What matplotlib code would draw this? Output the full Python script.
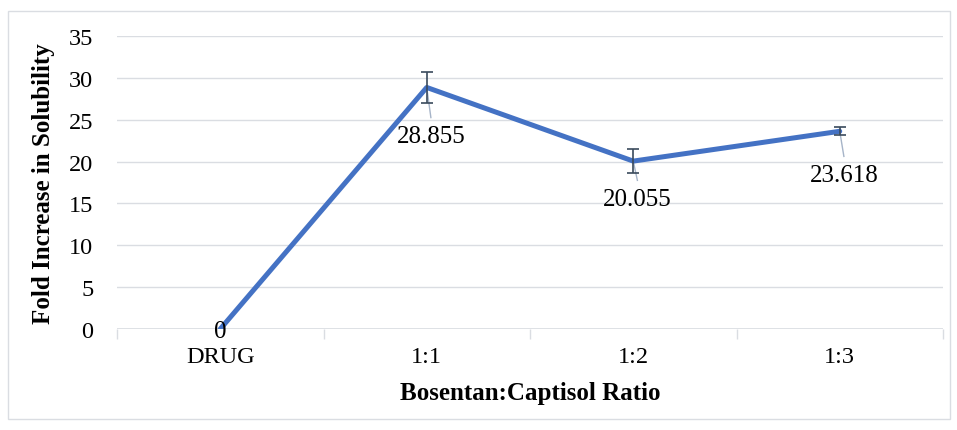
import matplotlib
matplotlib.use("Agg")
import matplotlib.pyplot as plt
from matplotlib.patches import Rectangle

categories = ["DRUG", "1:1", "1:2", "1:3"]
values = [0, 28.855, 20.055, 23.618]
errors = [0, 1.9, 1.4, 0.5]
labels = ["0", "28.855", "20.055", "23.618"]
yticks = [0, 5, 10, 15, 20, 25, 30, 35]

plt.rcParams['font.family'] = ['Liberation Serif', 'DejaVu Serif']

fig = plt.figure(figsize=(9.57, 4.31), dpi=100)
ax = fig.add_axes([117/957, 1 - 330/431, (943-117)/957, (330-37)/431])

x = list(range(len(categories)))
ax.plot(x, values, color='#4472C4', lw=3.6, zorder=3, solid_capstyle='round')
ax.errorbar(x[1:], values[1:], yerr=errors[1:], fmt='none', ecolor='#3A4A5C',
            elinewidth=1.2, capsize=4, capthick=1.2, zorder=4)

# data labels with leader lines
offsets = [(0, 0), (0, -5.8), (0, -4.5), (0, -5.2)]
for i, (xi, v, lab) in enumerate(zip(x, values, labels)):
    dx, dy = offsets[i]
    if i == 0:
        ax.text(xi, v - 0.2, lab, ha='center', va='center', fontsize=18, zorder=5)
    else:
        ax.plot([xi, xi + 0.02], [v, v + dy + 2.2], color='#A6B4C8', lw=1, zorder=2)
        ax.text(xi + 0.02, v + dy, lab, ha='center', va='center', fontsize=18, zorder=5)

ax.set_xlim(-0.5, 3.5)
ax.set_ylim(0, 35)
ax.set_yticks(yticks)
ax.set_xticks(x)
ax.set_xticklabels(categories)
ax.set_xticks([-0.5, 0.5, 1.5, 2.5, 3.5], minor=True)
ax.tick_params(axis='both', which='major', length=0, labelsize=17.5)
ax.tick_params(axis='x', which='minor', length=7, width=1, color='#DADDE2')
ax.tick_params(axis='y', pad=17)
ax.tick_params(axis='x', which='major', pad=12)
ax.grid(axis='y', color='#DADDE2', lw=1)
ax.set_axisbelow(True)
for s in ax.spines.values():
    s.set_visible(False)
ax.axhline(0, color='#DADDE2', lw=1.2, zorder=1)

ax.set_xlabel("Bosentan:Captisol Ratio", fontsize=18, fontweight='bold', labelpad=10)
ax.set_ylabel("Fold Increase in Solubility", fontsize=18, fontweight='bold', labelpad=10)

fig.patches.append(Rectangle((8/957, 1 - 420/431), (950-8)/957, (420-12)/431,
                             transform=fig.transFigure, fill=False,
                             edgecolor='#DADDE2', lw=1))

fig.savefig("out.png", dpi=100)
